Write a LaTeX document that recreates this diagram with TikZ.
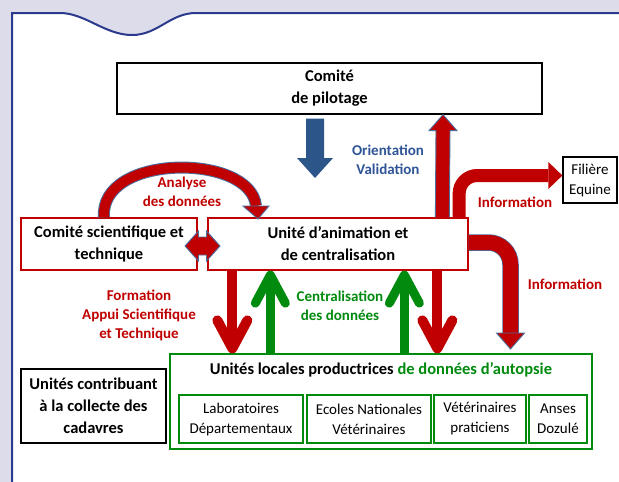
\documentclass[tikz,border=0pt]{standalone}
\usepackage{fontspec}
\setmainfont{Carlito}
\usetikzlibrary{calc,arrows.meta}
\definecolor{fond}{HTML}{DCDCEB}
\definecolor{cadre}{HTML}{2B3A8C}
\definecolor{rouge}{HTML}{C00000}
\definecolor{vert}{HTML}{008A0E}
\definecolor{bleu}{HTML}{2C5589}
\definecolor{bleutxt}{HTML}{2F5597}
\definecolor{contour}{HTML}{4A6F9E}
\tikzset{
  boite/.style={draw, line width=1.3pt, align=center, inner sep=0pt,
    font=\bfseries\fontsize{16.5}{22}\selectfont},
  petite/.style={draw=vert, line width=1.3pt, align=center, inner sep=0pt,
    minimum height=48pt, font=\fontsize{15}{20}\selectfont},
  etiquette/.style={align=center, font=\bfseries\fontsize{15}{19}\selectfont},
  bloc/.style={fill=rouge, draw=contour, line width=0.9pt},
  fleche/.style={line width=10pt, -{Straight Barb[round, length=28pt, width=30pt]}},
}
\begin{document}
\begin{tikzpicture}[x=1pt, y=-1pt]
  \useasboundingbox (0,0) rectangle (619,482);
  \clip (0,0) rectangle (619,482);
  \fill[fond] (0,0) rectangle (619,482);
  \filldraw[fill=white, draw=cadre, line width=2pt] (12,500) -- (12,13) -- (60,13)
    .. controls (85,13) and (105,35) .. (132,35)
    .. controls (158,35) and (170,13) .. (196,13) -- (640,13) -- (640,500);

  % boites
  \node[boite, minimum width=425pt, minimum height=51pt] (pilotage) at (329.5,88.5) {Comité\\de pilotage};
  \node[boite, draw=rouge, minimum width=176pt, minimum height=52pt] (cst) at (109,244) {Comité scientifique et\\technique};
  \node[boite, draw=rouge, fill=white, minimum width=260pt, minimum height=52pt] (unite) at (338,244) {Unité d’animation et\\de centralisation};
  \node[draw, line width=1.3pt, align=center, inner sep=0pt, minimum width=54pt, minimum height=46pt,
    font=\fontsize{15}{20}\selectfont] (filiere) at (590,180) {Filière\\Equine};
  \node[boite, line width=1.8pt, minimum width=145pt, minimum height=74pt] (contrib) at (93.5,406) {Unités contribuant\\à la collecte des\\cadavres};
  \node[draw=vert, line width=1.3pt, minimum width=422pt, minimum height=95pt] (locales) at (381,401.5) {};
  \node[boite, draw=none] (titre) at (381,370) {Unités locales productrices \textcolor{vert}{de données d’autopsie}};
  \node[petite, minimum width=124pt] (labo) at (241,419) {Laboratoires\\Départementaux};
  \node[petite, minimum width=124pt] (ecoles) at (369,419) {Ecoles Nationales\\Vétérinaires};
  \node[petite, minimum width=92pt] (veto) at (480,419) {Vétérinaires\\praticiens};
  \node[petite, minimum width=58pt] (anses) at (558,419) {Anses\\Dozulé};

  % fleche bleue
  \coordinate (bHaut) at ($(pilotage.south)+(-14.5,4)$);
  \coordinate (bPointe) at (315,178);
  \fill[bleu] ($(bHaut)+(-9,0)$) -- ($(bHaut)+(9,0)$) -- ($(bPointe)+(9,-20)$) -- ($(bPointe)+(18,-20)$)
    -- (bPointe) -- ($(bPointe)+(-18,-20)$) -- ($(bPointe)+(-9,-20)$) -- cycle;

  % fleche vers le comite de pilotage
  \coordinate (mBas) at ($(unite.north west)+(235,0)$);
  \coordinate (mPointe) at ($(pilotage.south)+(113.5,0)$);
  \draw[bloc] ($(mBas)+(-7,0)$) -- ($(mPointe)+(-7,16)$) -- ($(mPointe)+(-14,16)$) -- (mPointe)
    -- ($(mPointe)+(14,16)$) -- ($(mPointe)+(7,16)$) -- ($(mBas)+(7,0)$);

  % analyse des donnees
  \coordinate (aDep) at ($(cst.north)+(-5,0)$);
  \coordinate (aFin) at (256,206);
  \draw[contour, line width=12pt] (aDep) .. controls (99,153) and (251,153) .. (aFin);
  \draw[rouge, line width=10pt] (aDep) .. controls (99,153) and (251,153) .. (aFin);
  \draw[bloc] ($(aFin)+(-13,0)$) -- ($(aFin)+(13,0)$) -- ($(aFin)+(2,13)$) -- cycle;

  % double fleche
  \coordinate (dc) at ($($(cst.east)!0.5!(unite.west)$)+(0,2)$);
  \draw[bloc] ($(dc)+(-17.5,0)$) -- ($(dc)+(-4,-15)$) -- ($(dc)+(-4,-9)$) -- ($(dc)+(4,-9)$)
    -- ($(dc)+(4,-15)$) -- ($(dc)+(17.5,0)$) -- ($(dc)+(4,15)$) -- ($(dc)+(4,9)$)
    -- ($(dc)+(-4,9)$) -- ($(dc)+(-4,15)$) -- cycle;

  % information vers la filiere
  \draw[rouge, line width=13pt, rounded corners=18pt] ($(unite.north east)+(-9.5,0)$) |- ($(filiere.west)+(-14,-4.5)$);
  \fill[rouge] ($(filiere.west)+(-14,-18)$) -- ($(filiere.west)+(0,-4.5)$) -- ($(filiere.west)+(-14,9)$) -- cycle;

  % information vers les unites locales
  \coordinate (iDep) at ($(unite.east)+(0,-1.5)$);
  \coordinate (iFin) at (510.5,333);
  \draw[contour, line width=16.5pt, rounded corners=22pt] (iDep) -| (iFin);
  \draw[rouge, line width=15pt, rounded corners=22pt] (iDep) -| (iFin);
  \draw[bloc] ($(iFin)+(-14,0)$) -- ($(iFin)+(0,16)$) -- ($(iFin)+(14,0)$) -- cycle;

  % formation et centralisation
  \draw[fleche, rouge] ($(unite.south west)+(25,0)$) -- ($(locales.north west)+(63,0)$);
  \draw[fleche, vert, line width=9pt] ($(locales.north west)+(101,0)$) -- ($(unite.south west)+(63,0)$);
  \draw[fleche, vert, line width=9pt] ($(locales.north west)+(235,0)$) -- ($(unite.south west)+(197,0)$);
  \draw[fleche, rouge] ($(unite.south west)+(230,0)$) -- ($(locales.north west)+(268,0)$);

  % etiquettes
  \node[etiquette, text=bleutxt] (orient) at (388,160) {Orientation\\Validation};
  \node[etiquette, text=rouge] (analyse) at (182,192) {Analyse\\des données};
  \node[etiquette, text=rouge] (formation) at (139,315) {Formation\\Appui Scientifique\\et Technique};
  \node[etiquette, text=vert] (central) at (340,306) {Centralisation\\des données};
  \node[etiquette, text=rouge] (info1) at (515,202) {Information};
  \node[etiquette, text=rouge] (info2) at (565,284) {Information};
\end{tikzpicture}
\end{document}
